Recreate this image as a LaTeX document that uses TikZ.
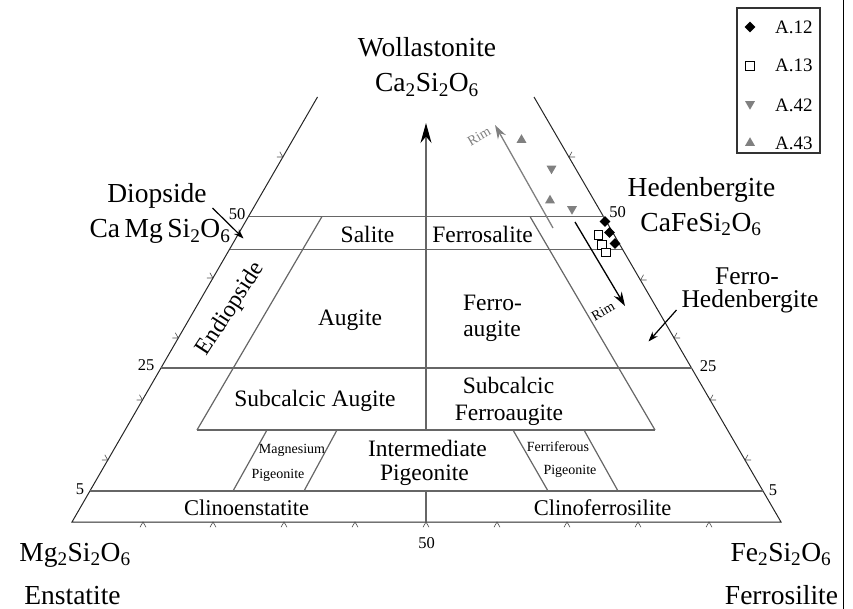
\documentclass[tikz,border=0pt]{standalone}
\usepackage{fontspec}
\setmainfont{Liberation Serif}
\usepackage{tikz}
\usetikzlibrary{arrows.meta,positioning,shapes.geometric}

\newcommand{\fsz}[1]{\fontsize{#1}{#1}\selectfont}
\newcommand{\ix}[1]{\textsubscript{#1}}

\begin{document}
\begin{tikzpicture}[
    x=1pt, y=-1pt,
    >=Stealth,
    every node/.style={inner sep=0pt},
    big/.style={font=\fsz{27.5}, anchor=base},
    field/.style={font=\fsz{23.5}, anchor=base},
    smallfield/.style={font=\fsz{14}, anchor=base},
    num/.style={font=\fsz{16.5}, anchor=base},
    key/.style={font=\fsz{19}, anchor=base west},
    side/.style={draw=black!85, line width=1pt},
    border/.style={draw=black!60, line width=1.2pt},
    tickmark/.style={draw=black!70, line width=0.6pt},
    pointer/.style={draw=black, line width=1.2pt, -{Stealth[length=10pt,width=7pt]}},
    rim/.style={line width=1.3pt, -{Stealth[length=14pt,width=9pt]}},
    mkA/.style={diamond, fill=black, minimum size=11pt},
    mkB/.style={rectangle, draw=black, fill=white, line width=0.9pt, minimum size=8.5pt},
    mkC/.style={regular polygon, regular polygon sides=3, shape border rotate=180, fill=black!50, minimum size=11.5pt},
    mkD/.style={regular polygon, regular polygon sides=3, fill=black!50, minimum size=11.5pt}
]
\useasboundingbox (0,0) rectangle (853,609);

\coordinate (BL) at (72,522);
\coordinate (BR) at (781,522);
\coordinate (LT) at (317.5,97);
\coordinate (RT) at (534,97);

\coordinate (L50) at (248.5,216.5);
\coordinate (R50) at (603.5,216.5);
\coordinate (L45) at (230,249.5);
\coordinate (R45) at (622,249.5);
\coordinate (L25) at (161,368);
\coordinate (R25) at (691.5,368);
\coordinate (L15) at (197,430);
\coordinate (R15) at (655,430);
\coordinate (L5) at (90,491);
\coordinate (R5) at (763,491);
\coordinate (M50) at (322,216.5);
\coordinate (F50) at (530,216.5);

\coordinate (C0) at (426,522);
\coordinate (C5) at (426,491);
\coordinate (C15) at (426,430);
\coordinate (Wo) at (426,123);

\draw[side] (LT) -- (BL) -- (BR) -- (RT);
\draw[border] (L50) -- (R50);
\draw[border] (L45) -- (R45);
\draw[border] (L25) -- (R25);
\draw[border] (L15) -- (R15);
\draw[border] (L5) -- (R5);
\draw[border] (L15) -- (M50);
\draw[border] (R15) -- (F50);
\draw[border] (C0) -- (C5);
\draw[border, -{Stealth[length=20pt,width=11pt,color=black]}] (C15) -- (Wo);

\draw[border] (267,430) -- (233,491);
\draw[border] (337,430) -- (304,491);
\draw[border] (513,430) -- (548,491);
\draw[border] (584,430) -- (618,491);

\foreach \x in {143,213,284,355,426,497,567,638,709}
    \draw[tickmark] (\x,522) ++(60:6) -- (\x,522) -- ++(120:6);
\foreach \x/\y in {107.8/460,142.5/400,178.3/338,212.9/278,282.8/157}
    \draw[tickmark] (\x,\y) ++(180:6) -- (\x,\y) -- ++(240:6);
\foreach \x/\y in {745/460,710/400,674/338,640.5/280,569/157}
    \draw[tickmark] (\x,\y) ++(300:6) -- (\x,\y) -- ++(0:6);

\node[num] (n50b) at (426.5,548) {50};
\node[num] (n5l) at (80,494) {5};
\node[num] (n25l) at (146,370) {25};
\node[num] (n50l) at (237,220) {50};
\node[num] (n50r) at (617.5,218) {50};
\node[num] (n25r) at (708,371) {25};
\node[num] (n5r) at (773,495) {5};

\node[big] (wo) at (427,57) {Wollastonite};
\node[big] (woF) at (427,92) {Ca\ix{2}Si\ix{2}O\ix{6}};
\node[big] (di) at (157,203) {Diopside};
\node[big] (diF) at (160,238) {Ca\,Mg\,Si\ix{2}O\ix{6}};
\node[big] (hd) at (701.5,196.5) {Hedenbergite};
\node[big] (hdF) at (701,231.5) {CaFeSi\ix{2}O\ix{6}};
\node[big, font=\fsz{25.5}] (fhd1) at (747,284) {Ferro-};
\node[big, font=\fsz{25.5}] (fhd2) at (750,308) {Hedenbergite};
\node[big] (enF) at (75,561.5) {Mg\ix{2}Si\ix{2}O\ix{6}};
\node[big] (en) at (72.5,604) {Enstatite};
\node[big] (fsF) at (781,561.5) {Fe\ix{2}Si\ix{2}O\ix{6}};
\node[big] (fs) at (781.5,604) {Ferrosilite};

\coordinate (diA) at (212.5,208);
\coordinate (diB) at (243.5,238.5);
\coordinate (fhdA) at (676.5,310);
\coordinate (fhdB) at (648.5,341.5);
\draw[pointer] (diA) -- (diB);
\draw[pointer] (fhdA) -- (fhdB);

\node[field] (sal) at (367.5,242.5) {Salite};
\node[field] (fsal) at (482.5,242.5) {Ferrosalite};
\node[field, rotate=57, anchor=center] (endi) at (231,309) {Endiopside};
\node[field] (aug) at (350,325) {Augite};
\node[field] (faug1) at (492.5,310) {Ferro-};
\node[field] (faug2) at (492,336.5) {augite};
\node[field] (sca) at (315,406) {Subcalcic Augite};
\node[field] (scf1) at (508.5,393) {Subcalcic};
\node[field] (scf2) at (509,420) {Ferroaugite};
\node[field] (ip1) at (427.5,456) {Intermediate};
\node[field] (ip2) at (424.5,480) {Pigeonite};
\node[smallfield] (mp1) at (292,453.5) {Magnesium};
\node[smallfield] (mp2) at (278,478) {Pigeonite};
\node[smallfield] (fp1) at (558,451) {Ferriferous};
\node[smallfield] (fp2) at (570,474) {Pigeonite};
\node[field, font=\fsz{22.5}] (cen) at (246.5,515.5) {Clinoenstatite};
\node[field, font=\fsz{22.5}] (cfs) at (602.5,515.5) {Clinoferrosilite};

\coordinate (rimGa) at (553,228);
\coordinate (rimGb) at (495,125);
\coordinate (rimKa) at (575,222);
\coordinate (rimKb) at (625,306);
\draw[rim, draw=black!50, fill=black!50] (rimGa) -- (rimGb);
\draw[rim, draw=black] (rimKa) -- (rimKb);
\node[smallfield, anchor=center, rotate=30, text=black!50] (rimG) at (479,136) {Rim};
\node[smallfield, anchor=center, rotate=30] (rimK) at (603,311) {Rim};

\node[mkB] (b1) at (598.5,235) {};
\node[mkB] (b2) at (602,245) {};
\node[mkB] (b3) at (606,252.5) {};
\node[mkA] (a1) at (605,221.5) {};
\node[mkA] (a2) at (609.5,232.5) {};
\node[mkA] (a3) at (615,243.5) {};
\node[mkC] (c1) at (551.5,168.5) {};
\node[mkC] (c2) at (572,209) {};
\node[mkD] (d1) at (521.5,140) {};
\node[mkD] (d2) at (550,200.5) {};

\node[draw=black!80, line width=1.1pt, minimum width=83pt, minimum height=145pt] (legend) at (778.5,80.5) {};
\node[mkA] (kA) at (750,27) {};
\node[mkB] (kB) at (750,66) {};
\node[mkC] (kC) at (750,104) {};
\node[mkD] (kD) at (750,143) {};
\node[key] (tA) at (775,33.5) {A.12};
\node[key] (tB) at (775,72) {A.13};
\node[key] (tC) at (775,111.5) {A.42};
\node[key] (tD) at (775,150) {A.43};

\draw[line width=1.2pt] (843.5,0) -- (843.5,609);

\end{tikzpicture}
\end{document}
